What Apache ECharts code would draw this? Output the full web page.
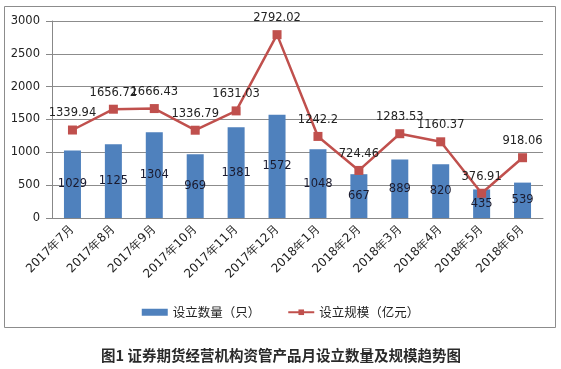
<!DOCTYPE html>
<html><head><meta charset="utf-8">
<script src="https://cdn.jsdelivr.net/npm/echarts@6/dist/echarts.min.js"></script>
<style>html,body{margin:0;padding:0;background:#fff}#c{width:561px;height:369px}</style>
</head><body><div id="c"></div>
<script>
const categories = ['2017年7月','2017年8月','2017年9月','2017年10月','2017年11月','2017年12月','2018年1月','2018年2月','2018年3月','2018年4月','2018年5月','2018年6月'];
const countValues = [1029,1125,1304,969,1381,1572,1048,667,889,820,435,539];
const scaleValues = [1339.94,1656.72,1666.43,1336.79,1631.03,2792.02,1242.2,724.46,1283.53,1160.37,376.91,918.06];
const seriesNames = ['设立数量（只）','设立规模（亿元）'];
const titleText = '图1 证券期货经营机构资管产品月设立数量及规模趋势图';

const chart = echarts.init(document.getElementById('c'), null, {renderer:'canvas'});
const numFont = 'DejaVu Sans, Verdana, sans-serif';
const cjkFont = '"Noto Sans CJK SC", sans-serif';
chart.setOption({
  animation:false,
  backgroundColor:'#fff',
  grid:{left:52,right:18,top:21,bottom:151},
  graphic:[
    {type:'rect',shape:{x:4.5,y:6.5,width:551,height:321},style:{fill:'none',stroke:'#8c8c8c',lineWidth:1},silent:true},
    {type:'text',x:281,y:355,style:{text:titleText,font:'bold 14.5px "Noto Sans CJK SC", sans-serif',fill:'#2a2a2a',textAlign:'center',textVerticalAlign:'middle'}}
  ],
  legend:{
    top:301, left:'center',
    itemWidth:26,itemHeight:7,itemGap:27,
    textStyle:{fontFamily:cjkFont,fontSize:12.5,color:'#222'},
    data:[{name:seriesNames[0],icon:'rect'},{name:seriesNames[1]}]
  },
  xAxis:{
    type:'category',data:categories,
    axisLine:{lineStyle:{color:'#888'}},
    axisTick:{length:5,lineStyle:{color:'#888'}},
    axisLabel:{rotate:45,fontSize:12,fontFamily:numFont,color:'#222',margin:9,interval:0}
  },
  yAxis:{
    type:'value',min:0,max:3000,interval:500,
    axisLine:{show:true,lineStyle:{color:'#888'}},
    axisTick:{show:true,length:6,lineStyle:{color:'#888'}},
    splitLine:{lineStyle:{color:'#8c8c8c'}},
    axisLabel:{fontSize:11.5,fontFamily:numFont,color:'#222',margin:12,formatter:function(v){return String(v);}}
  },
  series:[
    {name:seriesNames[0],type:'bar',data:countValues,barWidth:17,
     itemStyle:{color:'#4F81BD'},
     label:{show:true,position:'inside',fontSize:11.5,fontFamily:numFont,color:'#1a1a2e'}},
    {name:seriesNames[1],type:'line',data:scaleValues,
     lineStyle:{color:'#C0504D',width:2.5},
     itemStyle:{color:'#C0504D'},
     symbol:'rect',symbolSize:9,
     label:{show:true,position:'top',distance:6,fontSize:11.5,fontFamily:numFont,color:'#222'}}
  ]
});
</script></body></html>
